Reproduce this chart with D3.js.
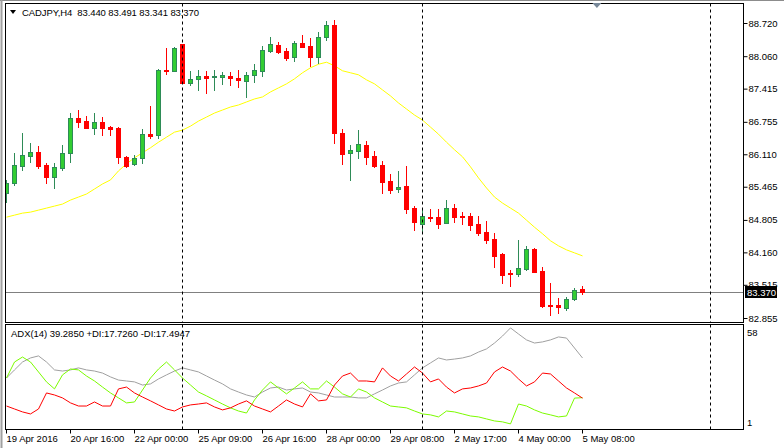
<!DOCTYPE html>
<html>
<head>
<meta charset="utf-8">
<script src="https://cdn.jsdelivr.net/npm/d3@7"></script>
<style>
    body { margin: 0; background: #ffffff; }
    svg { display: block; font-family: "Liberation Sans", Arial, sans-serif; }
</style>
</head>
<body>
<div id="chart"></div>
<script>
// header / legend text
const symbolTitle = 'CADJPY,H4';
const adxTitle = 'ADX(14) 39.2850 +DI:17.7260 -DI:17.4947';
const lastPrice = 83.370;

// H4 candles (bar 0 = 19 Apr 2016)
const opens = [85.34, 85.54, 85.88, 86.08, 86.16, 85.90, 85.66, 85.84, 86.14, 86.83,
    86.77, 86.63, 86.75, 86.65, 86.63, 86.06, 85.92, 86.04, 86.51, 86.49,
    87.79, 87.77, 88.31, 87.53, 87.61, 87.67, 87.65, 87.65, 87.67, 87.63,
    87.57, 87.69, 87.77, 88.16, 88.28, 88.16, 88.04, 88.32, 88.26, 88.04,
    88.44, 88.68, 86.53, 86.14, 86.18, 86.29, 86.08, 85.90, 85.58, 85.42,
    85.48, 85.04, 84.72, 84.87, 84.86, 84.74, 85.04, 84.89, 84.88, 84.72,
    84.57, 84.43, 84.13, 83.74, 83.73, 83.83, 84.23, 83.79, 83.12, 83.11,
    83.05, 83.23, 83.440];
const highs = [85.60, 86.14, 86.53, 86.33, 86.27, 85.94, 85.94, 86.29, 86.93, 86.99,
    86.87, 86.93, 86.85, 86.67, 86.65, 86.08, 86.10, 86.61, 87.07, 87.81,
    88.22, 88.24, 88.31, 87.77, 87.79, 87.77, 87.79, 87.75, 87.75, 87.79,
    87.75, 87.90, 88.26, 88.44, 88.34, 88.22, 88.36, 88.48, 88.42, 88.54,
    88.76, 88.78, 86.61, 86.29, 86.59, 86.37, 86.18, 85.98, 85.72, 85.78,
    85.88, 85.08, 85.00, 85.02, 85.02, 85.20, 85.12, 84.96, 84.94, 84.88,
    84.78, 84.55, 84.15, 83.81, 84.41, 84.29, 84.25, 83.87, 83.55, 83.25,
    83.27, 83.45, 83.491];
const lows = [85.16, 85.50, 85.80, 85.96, 85.84, 85.54, 85.44, 85.80, 85.96, 86.65,
    86.63, 86.51, 86.49, 86.49, 85.94, 85.86, 85.90, 85.94, 86.43, 86.43,
    87.71, 87.77, 87.52, 87.49, 87.39, 87.33, 87.39, 87.51, 87.49, 87.45,
    87.25, 87.55, 87.67, 88.14, 88.12, 87.98, 87.96, 88.24, 87.87, 87.92,
    88.38, 86.33, 85.92, 85.60, 86.04, 85.92, 85.86, 85.34, 85.34, 85.36,
    84.94, 84.61, 84.59, 84.78, 84.64, 84.74, 84.76, 84.72, 84.61, 84.51,
    84.35, 83.87, 83.55, 83.49, 83.69, 83.81, 83.77, 83.07, 82.92, 82.95,
    83.01, 83.21, 83.341];
const closes = [85.54, 85.90, 86.10, 86.16, 85.88, 85.66, 85.86, 86.14, 86.83, 86.75,
    86.63, 86.75, 86.63, 86.61, 86.06, 85.88, 86.04, 86.51, 86.47, 87.79,
    87.77, 88.22, 87.53, 87.61, 87.67, 87.63, 87.67, 87.68, 87.63, 87.59,
    87.69, 87.79, 88.18, 88.30, 88.14, 88.02, 88.32, 88.24, 88.04, 88.44,
    88.68, 86.53, 86.12, 86.20, 86.31, 86.06, 85.88, 85.56, 85.40, 85.46,
    85.02, 84.76, 84.88, 84.85, 84.72, 85.04, 84.86, 84.87, 84.70, 84.55,
    84.41, 84.09, 83.71, 83.72, 83.85, 84.23, 83.77, 83.09, 83.10, 83.07,
    83.23, 83.41, 83.370];

// yellow moving average
const maValues = [84.86, 84.90, 84.94, 84.96, 85.00, 85.04, 85.08, 85.12, 85.20, 85.26,
    85.32, 85.42, 85.52, 85.60, 85.78, 85.92, 86.04, 86.14, 86.24, 86.35,
    86.45, 86.55, 86.59, 86.67, 86.77, 86.85, 86.93, 86.99, 87.05, 87.09,
    87.15, 87.21, 87.25, 87.35, 87.43, 87.51, 87.61, 87.73, 87.83, 87.90,
    87.94, 87.87, 87.77, 87.73, 87.69, 87.59, 87.51, 87.39, 87.27, 87.13,
    87.01, 86.89, 86.79, 86.65, 86.51, 86.35, 86.20, 86.06, 85.86, 85.64,
    85.44, 85.26, 85.14, 85.04, 84.94, 84.80, 84.66, 84.53, 84.39, 84.29,
    84.21, 84.15, 84.09];

// ADX(14) window
const adxValues = [28.4, 32.8, 37.1, 39.3, 40.4, 37.1, 32.8, 32.2, 32.8, 33.9,
    32.8, 32.2, 31.1, 29.0, 27.3, 26.8, 26.3, 24.6, 25.2, 27.9,
    30.1, 32.2, 33.9, 32.8, 31.7, 29.5, 27.3, 25.2, 22.5, 20.8,
    19.2, 18.1, 20.8, 23.0, 23.5, 21.9, 22.5, 23.0, 20.8, 20.3,
    19.2, 18.1, 18.1, 18.1, 17.6, 17.6, 19.8, 21.9, 24.1, 25.7,
    26.3, 30.1, 33.9, 36.6, 39.3, 38.2, 38.7, 39.3, 40.4, 42.5,
    44.2, 47.4, 51.2, 55.6, 52.3, 49.1, 47.4, 48.0, 49.1, 50.7,
    50.1, 44.7, 39.285];
const plusDI = [28.4, 37.1, 39.8, 37.1, 31.7, 26.3, 22.5, 30.1, 33.3, 32.8,
    29.5, 26.8, 23.5, 20.3, 17.6, 14.9, 15.4, 21.9, 28.4, 33.3,
    37.1, 32.8, 28.4, 24.6, 20.8, 18.7, 16.5, 14.3, 12.2, 10.5,
    9.4, 16.5, 21.9, 26.3, 23.0, 19.8, 23.0, 26.3, 22.5, 22.5,
    26.8, 23.5, 19.8, 18.1, 22.5, 20.8, 17.6, 15.4, 13.2, 12.7,
    12.2, 10.5, 8.9, 8.4, 7.3, 10.5, 10.0, 8.9, 7.8, 7.3,
    6.2, 5.1, 4.6, 3.5, 14.3, 13.2, 11.1, 9.4, 8.4, 7.3,
    7.8, 17.5, 17.726];
const minusDI = [13.2, 11.6, 10.0, 8.9, 11.6, 20.3, 19.2, 17.6, 14.9, 13.2,
    13.2, 15.4, 13.2, 13.2, 22.5, 23.5, 20.3, 18.1, 16.0, 13.8,
    11.6, 10.5, 12.7, 13.8, 14.3, 14.9, 12.7, 11.1, 12.2, 14.3,
    16.0, 13.2, 11.6, 10.0, 13.2, 16.5, 14.3, 12.7, 19.8, 16.0,
    16.5, 24.6, 29.5, 31.1, 26.8, 26.8, 26.3, 33.9, 29.5, 26.8,
    30.6, 34.4, 31.1, 26.3, 27.9, 23.5, 20.3, 22.5, 23.0, 24.1,
    25.7, 31.7, 34.4, 32.2, 27.9, 24.1, 26.3, 31.1, 30.6, 26.8,
    23.0, 20.3, 17.4947];

// axes
const priceTicks = [88.720, 88.060, 87.415, 86.755, 86.110, 85.465, 84.805, 84.160, 83.515, 82.855];
const timeLabels = ['19 Apr 2016', '20 Apr 16:00', '22 Apr 00:00', '25 Apr 09:00', '26 Apr 16:00',
    '28 Apr 00:00', '29 Apr 08:00', '2 May 17:00', '4 May 00:00', '5 May 08:00'];
const timeLabelBars = [0, 8, 16, 24, 32, 40, 48, 56, 64, 72];
const adxScaleLabels = [58, 1];
const separatorBars = [22, 52, 88]; // dashed period separators

function drawChart() {
    const width = 784;
    const height = 448;
    const main = { left: 5.5, right: 743.5, top: 3.5, bottom: 322.5 };
    const sub = { top: 324.5, bottom: 429.5 };

    const bullFill = '#32cd32';
    const bullLine = '#2e8b57';
    const bearColor = '#ff0000';

    const svg = d3.select('#chart')
        .append('svg')
        .attr('width', width)
        .attr('height', height)
        .attr('viewBox', '0 0 ' + width + ' ' + height);

    // 8px per bar, chart shifted so empty space stays on the right
    const x = d3.scaleLinear().domain([0, 92]).range([6.5, 742.5]);
    const y = d3.scaleLinear().domain([82.855, 88.72]).range([318, 23]);
    const yAdx = d3.scaleLinear().domain([1, 58]).range([428.5, 323.5]);

    const snap = v => Math.round(v) + 0.5;

    // window frame
    svg.append('line').attr('x1', 0).attr('x2', width).attr('y1', 0.5).attr('y2', 0.5)
        .attr('stroke', '#8c8c8c');
    svg.append('line').attr('x1', 1.5).attr('x2', 1.5).attr('y1', 0).attr('y2', 448)
        .attr('stroke', '#a0a0a0').attr('stroke-width', 2);

    const defs = svg.append('defs');
    defs.append('clipPath').attr('id', 'clip-main').append('rect')
        .attr('x', main.left + 0.5).attr('y', main.top + 0.5)
        .attr('width', main.right - main.left - 1).attr('height', main.bottom - main.top - 1);
    defs.append('clipPath').attr('id', 'clip-sub').append('rect')
        .attr('x', main.left + 0.5).attr('y', sub.top + 0.5)
        .attr('width', main.right - main.left - 1).attr('height', sub.bottom - sub.top - 1);

    const gMain = svg.append('g').attr('clip-path', 'url(#clip-main)');
    const gSub = svg.append('g').attr('clip-path', 'url(#clip-sub)');

    // separators in both windows
    separatorBars.forEach(function(b) {
        const sx = x(b);
        [[main.top, main.bottom], [sub.top, sub.bottom]].forEach(function(r) {
            svg.append('line')
                .attr('x1', sx).attr('x2', sx).attr('y1', r[0]).attr('y2', r[1])
                .attr('stroke', '#000').attr('stroke-dasharray', '3,3');
        });
    });

    // bid line
    gMain.append('line')
        .attr('x1', main.left).attr('x2', main.right)
        .attr('y1', snap(y(lastPrice))).attr('y2', snap(y(lastPrice)))
        .attr('stroke', '#808080');

    // moving average
    const maLine = d3.line().x((d, i) => x(i)).y(d => y(d));
    gMain.append('path')
        .datum(maValues)
        .attr('d', maLine)
        .attr('fill', 'none')
        .attr('stroke', '#ffff00')
        .attr('stroke-width', 1);

    const bars = opens.map(function(o, i) {
        return { i: i, o: o, h: highs[i], l: lows[i], c: closes[i] };
    });

    const candles = gMain.selectAll('g.candle')
        .data(bars)
        .join('g')
        .attr('class', 'candle');

    candles.append('line')
        .attr('x1', d => x(d.i)).attr('x2', d => x(d.i))
        .attr('y1', d => Math.round(y(d.h))).attr('y2', d => Math.round(y(d.l)) + 1)
        .attr('stroke', d => d.c >= d.o ? bullLine : bearColor);

    candles.append('rect')
        .attr('x', d => x(d.i) - 2)
        .attr('width', 4)
        .attr('y', d => snap(y(Math.max(d.o, d.c))))
        .attr('height', d => Math.max(0, Math.round(y(Math.min(d.o, d.c))) - Math.round(y(Math.max(d.o, d.c)))))
        .attr('fill', d => d.c >= d.o ? bullFill : bearColor)
        .attr('stroke', d => d.c >= d.o ? bullLine : bearColor);

    // ADX lines
    const adxLine = d3.line().x((d, i) => x(i)).y(d => yAdx(d));
    [[adxValues, '#a0a0a0'], [plusDI, '#7cfc00'], [minusDI, '#ff0000']].forEach(function(s) {
        gSub.append('path')
            .datum(s[0])
            .attr('d', adxLine)
            .attr('fill', 'none')
            .attr('stroke', s[1])
            .attr('stroke-width', 1);
    });

    // window borders
    svg.append('rect')
        .attr('x', main.left).attr('y', main.top)
        .attr('width', main.right - main.left).attr('height', main.bottom - main.top)
        .attr('fill', 'none').attr('stroke', '#000');
    svg.append('rect')
        .attr('x', main.left).attr('y', sub.top)
        .attr('width', main.right - main.left).attr('height', sub.bottom - sub.top)
        .attr('fill', 'none').attr('stroke', '#000');

    // price axis
    const priceAxis = svg.append('g')
        .attr('transform', 'translate(' + main.right + ',0)')
        .call(d3.axisRight(y).tickValues(priceTicks).tickSize(4).tickPadding(1).tickFormat(d3.format('.3f')));
    priceAxis.select('.domain').remove();
    priceAxis.selectAll('text').attr('fill', '#000').style('font-size', '9.5px').style('font-family', '"Liberation Sans", Arial, sans-serif');
    priceAxis.selectAll('line').attr('stroke', '#000');

    // current price tag (sits over the 83.515 label, as in the terminal)
    const tagY = y(lastPrice);
    svg.append('rect')
        .attr('x', 745).attr('y', Math.round(tagY) - 6)
        .attr('width', 32).attr('height', 12)
        .attr('fill', '#000');
    svg.append('text')
        .attr('x', 747).attr('y', tagY + 3.5)
        .attr('fill', '#fff')
        .style('font-size', '9.5px')
        .text(d3.format('.3f')(lastPrice));

    // ADX scale labels
    svg.selectAll('text.adx-scale')
        .data(adxScaleLabels)
        .join('text')
        .attr('class', 'adx-scale')
        .attr('x', 747)
        .attr('y', d => d === 58 ? yAdx(d) + 12 : yAdx(d) - 3)
        .attr('fill', '#000')
        .style('font-size', '9.5px')
        .text(d => d);

    // time axis
    const timeAxis = svg.append('g')
        .attr('transform', 'translate(0,' + sub.bottom + ')')
        .call(d3.axisBottom(x).tickValues(timeLabelBars).tickSize(4).tickPadding(2).offset(0)
            .tickFormat((d, i) => timeLabels[i]));
    timeAxis.select('.domain').remove();
    timeAxis.selectAll('line').attr('stroke', '#000');
    timeAxis.selectAll('text')
        .attr('text-anchor', 'start')
        .attr('x', 0)
        .attr('fill', '#000')
        .style('font-size', '9.5px')
        .style('font-family', '"Liberation Sans", Arial, sans-serif');

    // chart shift marker
    const sx = x(73.8);
    svg.append('path')
        .attr('d', 'M' + (sx - 4.5) + ',3 L' + (sx + 4.5) + ',3 L' + sx + ',8 Z')
        .attr('fill', '#778899');

    // titles
    svg.append('path').attr('d', 'M10,10 L16,10 L13,14 Z').attr('fill', '#000');
    svg.append('text')
        .attr('x', 22).attr('y', 15.5)
        .attr('textLength', 177)
        .attr('lengthAdjust', 'spacing')
        .style('font-size', '9.5px')
        .style('white-space', 'pre')
        .attr('fill', '#000')
        .text(symbolTitle + '  ' + [opens[72], highs[72], lows[72], closes[72]].map(v => d3.format('.3f')(v)).join(' '));
    svg.append('text')
        .attr('x', 11).attr('y', 337)
        .attr('textLength', 179)
        .attr('lengthAdjust', 'spacing')
        .style('font-size', '9.5px')
        .attr('fill', '#000')
        .text(adxTitle);
}

drawChart();
</script>
</body>
</html>
